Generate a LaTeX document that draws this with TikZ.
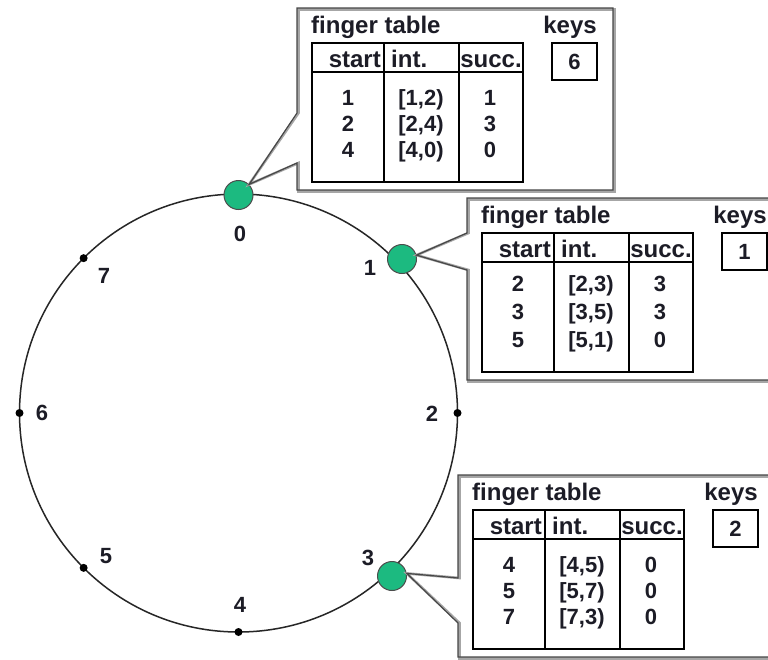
\documentclass[tikz,border=0pt]{standalone}
\usepackage{fontspec}
\setmainfont{Liberation Sans}
\usetikzlibrary{calc}
\definecolor{peergreen}{RGB}{28,186,128}
\definecolor{txt}{RGB}{28,28,38}
\tikzset{
  ring/.style={line width=1.5pt, draw=black!85},
  peer/.style={circle, draw=black!70, line width=1pt, fill=peergreen, minimum size=29pt, inner sep=0pt},
  dot/.style={circle, fill=black, minimum size=8pt, inner sep=0pt},
  idlabel/.style={font=\fontsize{22}{22}\selectfont\bfseries, text=txt, inner sep=0pt},
  calloutfill/.style={fill=white},
  calloutshadow/.style={draw=black!35, line width=2.6pt},
  calloutline/.style={draw=black!72, line width=1.2pt, line join=miter},
  tabline/.style={draw=black, line width=1.8pt},
  headtext/.style={font=\fontsize{24}{26}\selectfont\bfseries, text=txt, inner sep=0pt},
  celltext/.style={font=\fontsize{22}{24}\selectfont\bfseries, text=txt, inner sep=0pt},
  keybox/.style={draw=black, line width=1.8pt, minimum width=45pt, minimum height=37pt, inner sep=0pt, font=\fontsize{22}{24}\selectfont\bfseries, text=txt},
}
% callout outline: #1 apex, #2 upper notch y, #3 lower notch y (local coordinates)
\newcommand\fcallout[3]{%
  \path[calloutfill] (297,8) -- (613,8) -- (613,190) -- (297,190) -- (297,#3) -- (#1) -- (297,#2) -- cycle;
  \draw[calloutshadow] (298.5,9.5) -- (614.5,9.5) -- (614.5,191.5) -- (298.5,191.5) -- (298.5,#3) -- (#1) -- (298.5,#2) -- cycle;
  \draw[calloutline] (297,8) -- (613,8) -- (613,190) -- (297,190) -- (297,#3) -- (#1) -- (297,#2) -- cycle;
}
% table frame: #1 prefix, #2 key
\newcommand\fframe[2]{%
  \node[headtext, anchor=base west] (#1title) at (311,33) {finger table};
  \node[headtext, anchor=base] (#1keys) at (570,33) {keys};
  \draw[tabline] (312,43) rectangle (523,182);
  \draw[tabline] (312,72) -- (523,72);
  \draw[tabline] (384,43) -- (384,182);
  \draw[tabline] (459,43) -- (459,182);
  \node[headtext, anchor=base east] (#1hs) at (381,67) {start};
  \node[headtext, anchor=base west] (#1hi) at (391,67) {int.};
  \node[headtext, anchor=base] (#1hc) at (491,67) {succ.};
  \node[keybox] (#1key) at (574.5,61.5) {#2};
}
% table row: #1 prefix, #2 index, #3 baseline, #4 #5 #6 cells
\newcommand\frow[6]{%
  \node[celltext, anchor=base] (#1r#2a) at (348,#3) {#4};
  \node[celltext, anchor=base] (#1r#2b) at (421,#3) {#5};
  \node[celltext, anchor=base] (#1r#2c) at (490,#3) {#6};
}
\begin{document}
\begin{tikzpicture}[x=1pt,y=-1pt]
\useasboundingbox[fill=white] (0,0) rectangle (768,659);
\clip (0,0) rectangle (768,659);

% ring
\coordinate (c) at (238.5,413);
\draw[ring] (c) circle[radius=219pt];

% plain identifiers
\node[dot] (d2) at (457.5,413) {};
\node[dot] (d4) at (238.5,632) {};
\node[dot] (d5) at ($(c)+(225:219pt)$) {};
\node[dot] (d6) at (19.5,413) {};
\node[dot] (d7) at ($(c)+(135:219pt)$) {};

% peers
\node[peer] (n0) at (238.5,195) {};
\node[peer] (n1) at (402,259) {};
\node[peer] (n3) at (392,576) {};

% labels
\node[idlabel] (l0) at (240,234) {0};
\node[idlabel] (l1) at (370,268) {1};
\node[idlabel] (l2) at (432,414) {2};
\node[idlabel] (l3) at (368,558) {3};
\node[idlabel] (l4) at (240,605) {4};
\node[idlabel] (l5) at (106,556) {5};
\node[idlabel] (l6) at (42,413) {6};
\node[idlabel] (l7) at (104,276) {7};

% callout of node 0
\begin{scope}
  \fcallout{n0.45}{113}{163}
  \fframe{a}{6}
  \frow{a}{1}{105}{1}{[1,2)}{1}
  \frow{a}{2}{131}{2}{[2,4)}{3}
  \frow{a}{3}{157}{4}{[4,0)}{0}
\end{scope}

% callout of node 1
\begin{scope}[shift={(170,190)}]
  \fcallout{n1.15}{43}{80}
  \fframe{b}{1}
  \frow{b}{1}{101}{2}{[2,3)}{3}
  \frow{b}{2}{129}{3}{[3,5)}{3}
  \frow{b}{3}{157}{5}{[5,1)}{0}
\end{scope}

% callout of node 3
\begin{scope}[shift={(161,467)}]
  \fcallout{n3.10}{111}{156}
  \fframe{c}{2}
  \frow{c}{1}{105}{4}{[4,5)}{0}
  \frow{c}{2}{131}{5}{[5,7)}{0}
  \frow{c}{3}{157}{7}{[7,3)}{0}
\end{scope}
\end{tikzpicture}
\end{document}
